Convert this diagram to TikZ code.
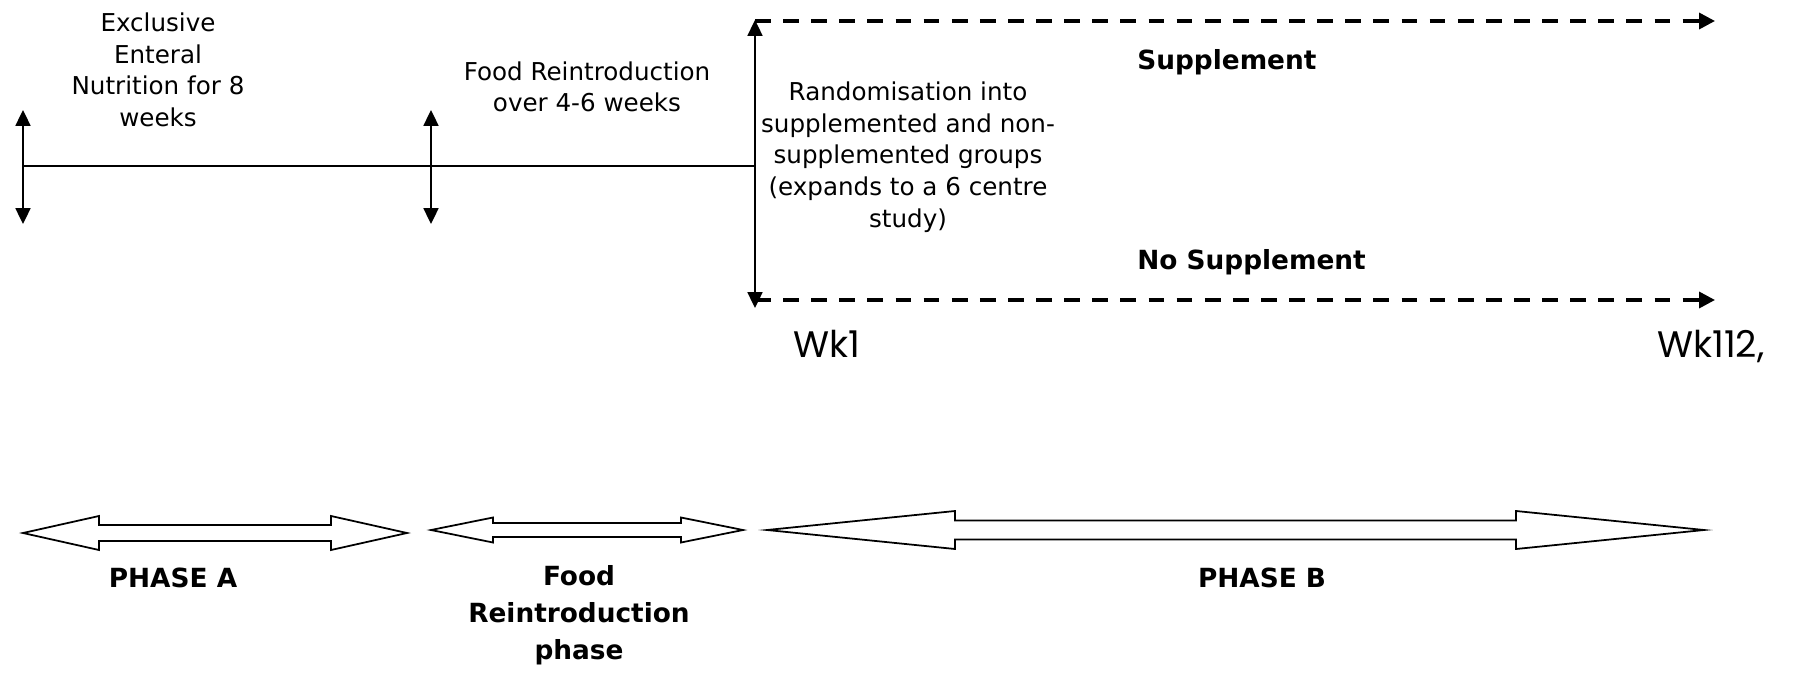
\documentclass[tikz,border=0pt]{standalone}
\usepackage{fontspec}
\setmainfont{DejaVu Sans}
\newfontfamily\wkfont{Poppins}
\usetikzlibrary{arrows.meta}

% outlined double arrow: left x, right x, mid y, head length, head half, shaft half
\newcommand{\phasearrow}[6]{%
  \draw[phase] (#1,#3) -- ++(#4,-#5) -- ++(0,#5-#6) -- (#2-#4,#3-#6)
    -- ++(0,#6-#5) -- (#2,#3) -- ++(-#4,#5) -- ++(0,#6-#5)
    -- (#1+#4,#3+#6) -- ++(0,#5-#6) -- cycle;}

\begin{document}
\begin{tikzpicture}[
    x=0.02cm, y=-0.02cm,
    every node/.style={inner sep=0pt, align=center},
    txt/.style={font=\fontsize{14}{18}\selectfont},
    bold/.style={font=\fontsize{15}{21}\selectfont\bfseries},
    wk/.style={font=\fontsize{21}{25}\selectfont\wkfont},
    timeline/.style={line width=1.1pt},
    tick/.style={line width=1.1pt, {Triangle[length=9pt,width=8.5pt]}-{Triangle[length=9pt,width=8.5pt]}},
    group/.style={line width=2pt, dash pattern=on 9pt off 7pt, -{Triangle[length=9pt,width=9pt]}},
    phase/.style={line width=1pt, line join=miter}
  ]
  \useasboundingbox (0,0) rectangle (1795,673);

  % timeline
  \coordinate (start) at (23,166);
  \coordinate (reintro) at (431,166);
  \coordinate (rand) at (755,166);
  \coordinate (start up) at (23,110);
  \coordinate (start down) at (23,224);
  \coordinate (reintro up) at (431,110);
  \coordinate (reintro down) at (431,224);
  \coordinate (rand up) at (755,20);
  \coordinate (rand down) at (755,308);
  \coordinate (supp start) at (755,21);
  \coordinate (supp end) at (1715,21);
  \coordinate (nosupp start) at (755,300);
  \coordinate (nosupp end) at (1715,300);

  \draw[timeline] (start) -- (rand);
  \draw[tick] (start up) -- (start down);
  \draw[tick] (reintro up) -- (reintro down);
  \draw[tick] (rand up) -- (rand down);
  \draw[group] (supp start) -- (supp end);
  \draw[group] (nosupp start) -- (nosupp end);

  \node[txt] (een) at (158,70) {Exclusive\\Enteral\\Nutrition for 8\\weeks};
  \node[txt] (reintro text) at (587,87) {Food Reintroduction\\over 4-6 weeks};
  \node[txt] (rand text) at (908,157) {Randomisation into\\supplemented and non-\\supplemented groups\\(expands to a 6 centre\\study)};
  \node[bold, anchor=west] (supp) at (1137,62) {Supplement};
  \node[bold, anchor=west] (nosupp) at (1137,262) {No Supplement};
  \node[wk, anchor=base west] (wk1) at (793,357) {Wk1};
  \node[wk, anchor=base west] (wk112) at (1657,357) {Wk112,};

  % phases
  \phasearrow{23}{407}{533}{76}{17}{8}
  \phasearrow{431}{743}{530}{62}{12.5}{7}
  \phasearrow{767}{1704}{530}{188}{19}{9.5}

  \node[bold] (phase a) at (173,578) {PHASE A};
  \node[bold] (phase fr) at (579,615) {Food\\Reintroduction\\phase};
  \node[bold] (phase b) at (1262,578) {PHASE B};
\end{tikzpicture}
\end{document}
